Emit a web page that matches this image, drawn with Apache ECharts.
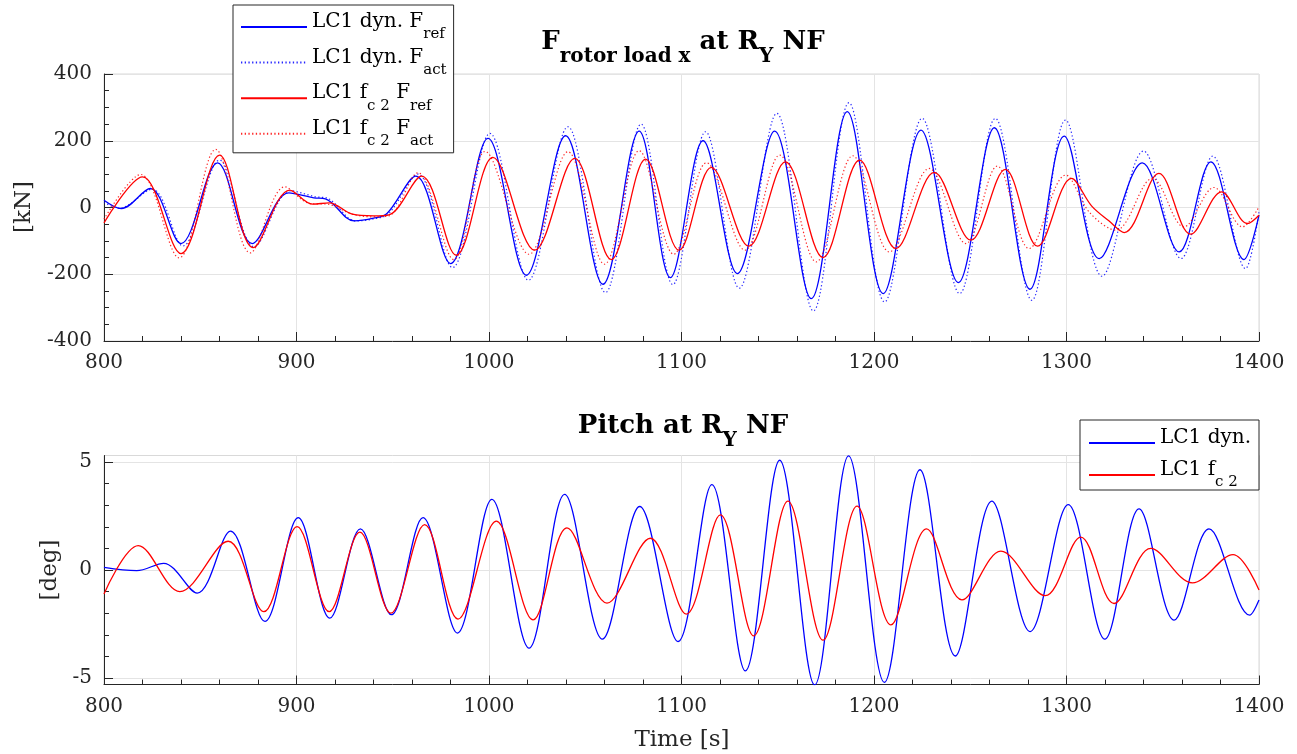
<!DOCTYPE html>
<html><head><meta charset="utf-8">
<script src="https://cdn.jsdelivr.net/npm/echarts@6/dist/echarts.min.js"></script>
<style>html,body{margin:0;padding:0;background:#fff}#c{width:1297px;height:754px}</style>
</head><body><div id="c"></div>
<script>
// ---------------- data ----------------
// Top panel: F rotor load x [kN] vs time [s]
const loadDynRef = [[800,22],[809,-3],[824,57],[840,-108],[859,134],[877,-108],[896,44],[909,29],[915,26],[930,-40],[940,-32],[947,-18],[962,94],[980,-168],[999.5,207],[1019.4,-203],[1039.8,215],[1059.2,-230],[1078,229],[1094.2,-210],[1111.2,200],[1129,-198],[1148.4,229],[1167.4,-273],[1186.1,287],[1204.8,-258],[1224.4,232],[1243.8,-225],[1262.5,239],[1281,-245],[1298.8,214],[1317,-153],[1339.4,134],[1358.5,-133],[1375,137],[1392.2,-156],[1400,-23]];
const loadDynAct = [[800,15],[808,-2],[825,55],[841,-115],[860,142],[878,-118],[897,50],[910,32],[916,28],[931,-40],[941,-33],[948,-18],[963,100],[981,-180],[1000.5,222],[1020.5,-218],[1041,242],[1060.5,-255],[1079,250],[1095.5,-231],[1112.5,227],[1130,-242],[1149.5,282],[1168.5,-310],[1187,314],[1205.5,-283],[1225,267],[1244.5,-258],[1263,267],[1282,-278],[1299.5,262],[1318.5,-206],[1340,169],[1359.5,-153],[1376,154],[1393,-183],[1400,-12]];
const loadFcRef = [[800,-46],[820,92],[840,-138],[860,157],[877.5,-120],[896.5,52],[908.5,10],[917,14],[929,-20],[940,-25],[948,-22],[965,94],[983,-143],[1002,150],[1023.7,-128],[1044.5,147],[1063.5,-156],[1081.4,145],[1098.7,-128],[1115.5,120],[1135,-116],[1154,137],[1173.5,-150],[1192.5,142],[1211.4,-123],[1231.3,105],[1250.3,-98],[1268.2,114],[1285,-116],[1302.6,87],[1313,5],[1322,-40],[1330,-75],[1348,102],[1364.5,-80],[1380.6,47],[1394,-48],[1400,-23]];
const loadFcAct = [[800,-35],[819,99],[839,-151],[858,174],[876,-136],[894,62],[907,12],[916,10],[929,-20],[940,-28],[948,-25],[963,104],[981.7,-156],[998,168],[1020.8,-140],[1041,167],[1060,-170],[1078,170],[1096,-140],[1113,134],[1133,-128],[1151,157],[1170,-163],[1189,155],[1208,-133],[1228.7,117],[1247.7,-108],[1264,124],[1280.6,-123],[1299.6,97],[1312,-15],[1325.6,-68],[1344.6,87],[1361,-58],[1376.6,60],[1391.4,-58],[1400,2]];
// Bottom panel: pitch [deg] vs time [s]
const pitchDyn = [[800,0.12],[817,-0.03],[831,0.31],[848.4,-1.07],[865.7,1.80],[883.6,-2.38],[900.9,2.42],[917.3,-2.23],[933.2,1.90],[949.3,-2.07],[965.7,2.42],[983.6,-2.92],[1001.5,3.27],[1020.8,-3.62],[1039.3,3.50],[1058.9,-3.20],[1078.3,2.94],[1098.2,-3.31],[1115.8,3.95],[1133.2,-4.67],[1151,5.08],[1169.2,-5.32],[1186.8,5.28],[1205.4,-5.2],[1223.9,4.64],[1242.2,-3.98],[1261.2,3.19],[1281.1,-2.85],[1300.9,3.03],[1319.9,-3.2],[1337.7,2.83],[1355.9,-2.32],[1374,1.9],[1395.2,-2.09],[1400,-1.39]];
const pitchFc = [[800,-1.11],[817.8,1.13],[839.4,-1.0],[864.5,1.33],[883,-1.93],[900.3,2.01],[917,-1.93],[932.9,1.75],[949,-2.0],[966.6,2.10],[983.9,-2.27],[1003.8,2.26],[1022.9,-2.31],[1040.5,1.95],[1061.3,-1.53],[1083.8,1.47],[1102.5,-2.04],[1120.2,2.55],[1137.5,-3.05],[1155.3,3.19],[1173.5,-3.25],[1191.2,2.96],[1208.8,-2.54],[1227.3,1.9],[1245.7,-1.38],[1265.9,0.87],[1288.9,-1.19],[1307.4,1.52],[1324.7,-1.55],[1343.8,1.0],[1365.4,-0.60],[1386.5,0.71],[1400,-0.93]];
// axis ranges / ticks
const timeRange = [800, 1400];
const loadRange = [-400, 400];
const pitchRange = [-5.3, 5.3];
const pitchMajorTicks = [-5, 0, 5];
const pitchMinorTicks = [-4, -3, -2, -1, 1, 2, 3, 4];
// legend / label texts
const topNames = ['LC1 dyn. F_ref', 'LC1 dyn. F_act', 'LC1 f_c2 F_ref', 'LC1 f_c2 F_act'];
const botNames = ['LC1 dyn.', 'LC1 f_c2'];
const legendRich = {
  'LC1 dyn. F_ref': '{m|LC1 dyn. F}{s|ref}',
  'LC1 dyn. F_act': '{m|LC1 dyn. F}{s|act}',
  'LC1 f_c2 F_ref': '{m|LC1 f}{s|c 2}{m| F}{s|ref}',
  'LC1 f_c2 F_act': '{m|LC1 f}{s|c 2}{m| F}{s|act}',
  'LC1 dyn.': '{m|LC1 dyn.}',
  'LC1 f_c2': '{m|LC1 f}{s|c 2}'
};

// ---------------- chart ----------------
const FONT = 'DejaVu Serif';
const AX = '#262626';
const GRIDC = '#e4e4e4';
const BLUE = '#0000ff', RED = '#ff0000';
const chart = echarts.init(document.getElementById('c'), null, {renderer: 'canvas'});

function xAxisCfg(g) {
  return {type: 'value', gridIndex: g, min: timeRange[0], max: timeRange[1], interval: 100,
    axisLine: {onZero: false, lineStyle: {color: AX, width: 1}},
    axisTick: {inside: true, length: 9, lineStyle: {color: AX}},
    minorTick: {show: true, splitNumber: 5, length: 5, lineStyle: {color: AX}},
    splitLine: {show: true, lineStyle: {color: GRIDC}},
    axisLabel: {color: AX, fontSize: 20, fontFamily: FONT, fontWeight: 'normal', margin: 12, formatter: v => String(v)}};
}
const richStyles = {
  m: {fontSize: 20, fontFamily: FONT, fontWeight: 'normal', color: '#000', lineHeight: 24, padding: [0, 0, 10, 0]},
  s: {fontSize: 15, fontFamily: FONT, fontWeight: 'normal', color: '#000', lineHeight: 24, padding: [15, 0, 0, 0]}
};
function legendCfg(names, left, top, gap, pad) {
  return {data: names, orient: 'vertical', left: left, top: top, itemWidth: 66, itemHeight: 14,
    itemGap: gap, padding: pad, backgroundColor: '#fff', borderColor: AX, borderWidth: 1,
    borderRadius: 0, selectedMode: false,
    itemStyle: {color: 'rgba(0,0,0,0)', borderWidth: 0, opacity: 0},
    formatter: n => legendRich[n], textStyle: {fontFamily: FONT, fontSize: 20, color: '#000', rich: richStyles}};
}
function lineSeries(name, data, xi, yi, color, dotted) {
  return {name: name, type: 'line', xAxisIndex: xi, yAxisIndex: yi, data: data,
    symbol: 'none', showSymbol: false, smooth: 0.35, animation: false,
    itemStyle: {color: color},
    lineStyle: {color: color, width: dotted ? 1.2 : 1.3, type: dotted ? [1.3, 2.4] : 'solid', opacity: dotted ? 0.85 : 1}};
}
const titleRich = {
  b: {fontSize: 26, fontWeight: 'bold', fontFamily: FONT, color: '#000', lineHeight: 30},
  bs: {fontSize: 20, fontWeight: 'bold', fontFamily: FONT, color: '#000', lineHeight: 30, padding: [28, 0, 0, 0]}
};

chart.setOption({
  animation: false,
  backgroundColor: '#fff',
  textStyle: {fontFamily: FONT},
  grid: [
    {left: 104, top: 74, width: 1155, height: 267, show: true, borderColor: '#d9d9d9', borderWidth: 1},
    {left: 104, top: 455.5, width: 1155, height: 229, show: true, borderColor: '#d9d9d9', borderWidth: 1}
  ],
  xAxis: [xAxisCfg(0), xAxisCfg(1)],
  yAxis: [
    {type: 'value', gridIndex: 0, min: loadRange[0], max: loadRange[1], interval: 200,
      axisLine: {show: true, onZero: false, lineStyle: {color: AX}},
      axisTick: {show: true, inside: true, length: 9, lineStyle: {color: AX}},
      minorTick: {show: true, splitNumber: 4, length: 5, lineStyle: {color: AX}},
      splitLine: {show: true, lineStyle: {color: GRIDC}},
      axisLabel: {color: AX, fontSize: 20, fontFamily: FONT, fontWeight: 'normal', margin: 12, formatter: v => String(v)}},
    {type: 'value', gridIndex: 1, min: pitchRange[0], max: pitchRange[1],
      axisLine: {show: true, onZero: false, lineStyle: {color: AX}},
      axisTick: {show: true, inside: true, length: 9, customValues: pitchMajorTicks, lineStyle: {color: AX}},
      splitLine: {show: true, lineStyle: {color: GRIDC}},
      axisLabel: {color: AX, fontSize: 20, fontFamily: FONT, fontWeight: 'normal', margin: 12, customValues: pitchMajorTicks, formatter: v => String(v)}},
    {type: 'value', gridIndex: 1, min: pitchRange[0], max: pitchRange[1], position: 'left',
      axisLine: {show: false, onZero: false},
      axisTick: {show: true, inside: true, length: 5, customValues: pitchMinorTicks, lineStyle: {color: AX}},
      splitLine: {show: false}, axisLabel: {show: false}}
  ],
  legend: [
    legendCfg(topNames, 233, 5, 5.6, [7, 7, 4, 7]),
    legendCfg(botNames, 1080, 420, 2, [8, 8, 0, 8])
  ],
  graphic: [
    {type: 'text', x: 683, y: 42.5, z: 10, style: {text: '{b|F}{bs|rotor load x}{b| at R}{bs|Y}{b| NF}', rich: titleRich, align: 'center', verticalAlign: 'middle'}},
    {type: 'text', x: 683, y: 426.5, z: 10, style: {text: '{b|Pitch at R}{bs|Y}{b| NF}', rich: titleRich, align: 'center', verticalAlign: 'middle'}},
    {type: 'text', x: 24, y: 207, rotation: Math.PI / 2, style: {text: '[kN]', font: "23px 'DejaVu Serif'", fill: AX, align: 'center', verticalAlign: 'middle'}},
    {type: 'text', x: 50, y: 570, rotation: Math.PI / 2, style: {text: '[deg]', font: "23px 'DejaVu Serif'", fill: AX, align: 'center', verticalAlign: 'middle'}},
    {type: 'text', x: 682, y: 740, style: {text: 'Time [s]', font: "23px 'DejaVu Serif'", fill: AX, align: 'center', verticalAlign: 'middle'}}
  ],
  series: [
    lineSeries(topNames[0], loadDynRef, 0, 0, BLUE, false),
    lineSeries(topNames[1], loadDynAct, 0, 0, BLUE, true),
    lineSeries(topNames[2], loadFcRef, 0, 0, RED, false),
    lineSeries(topNames[3], loadFcAct, 0, 0, RED, true),
    lineSeries(botNames[0], pitchDyn, 1, 1, BLUE, false),
    lineSeries(botNames[1], pitchFc, 1, 1, RED, false)
  ]
});
</script></body></html>
